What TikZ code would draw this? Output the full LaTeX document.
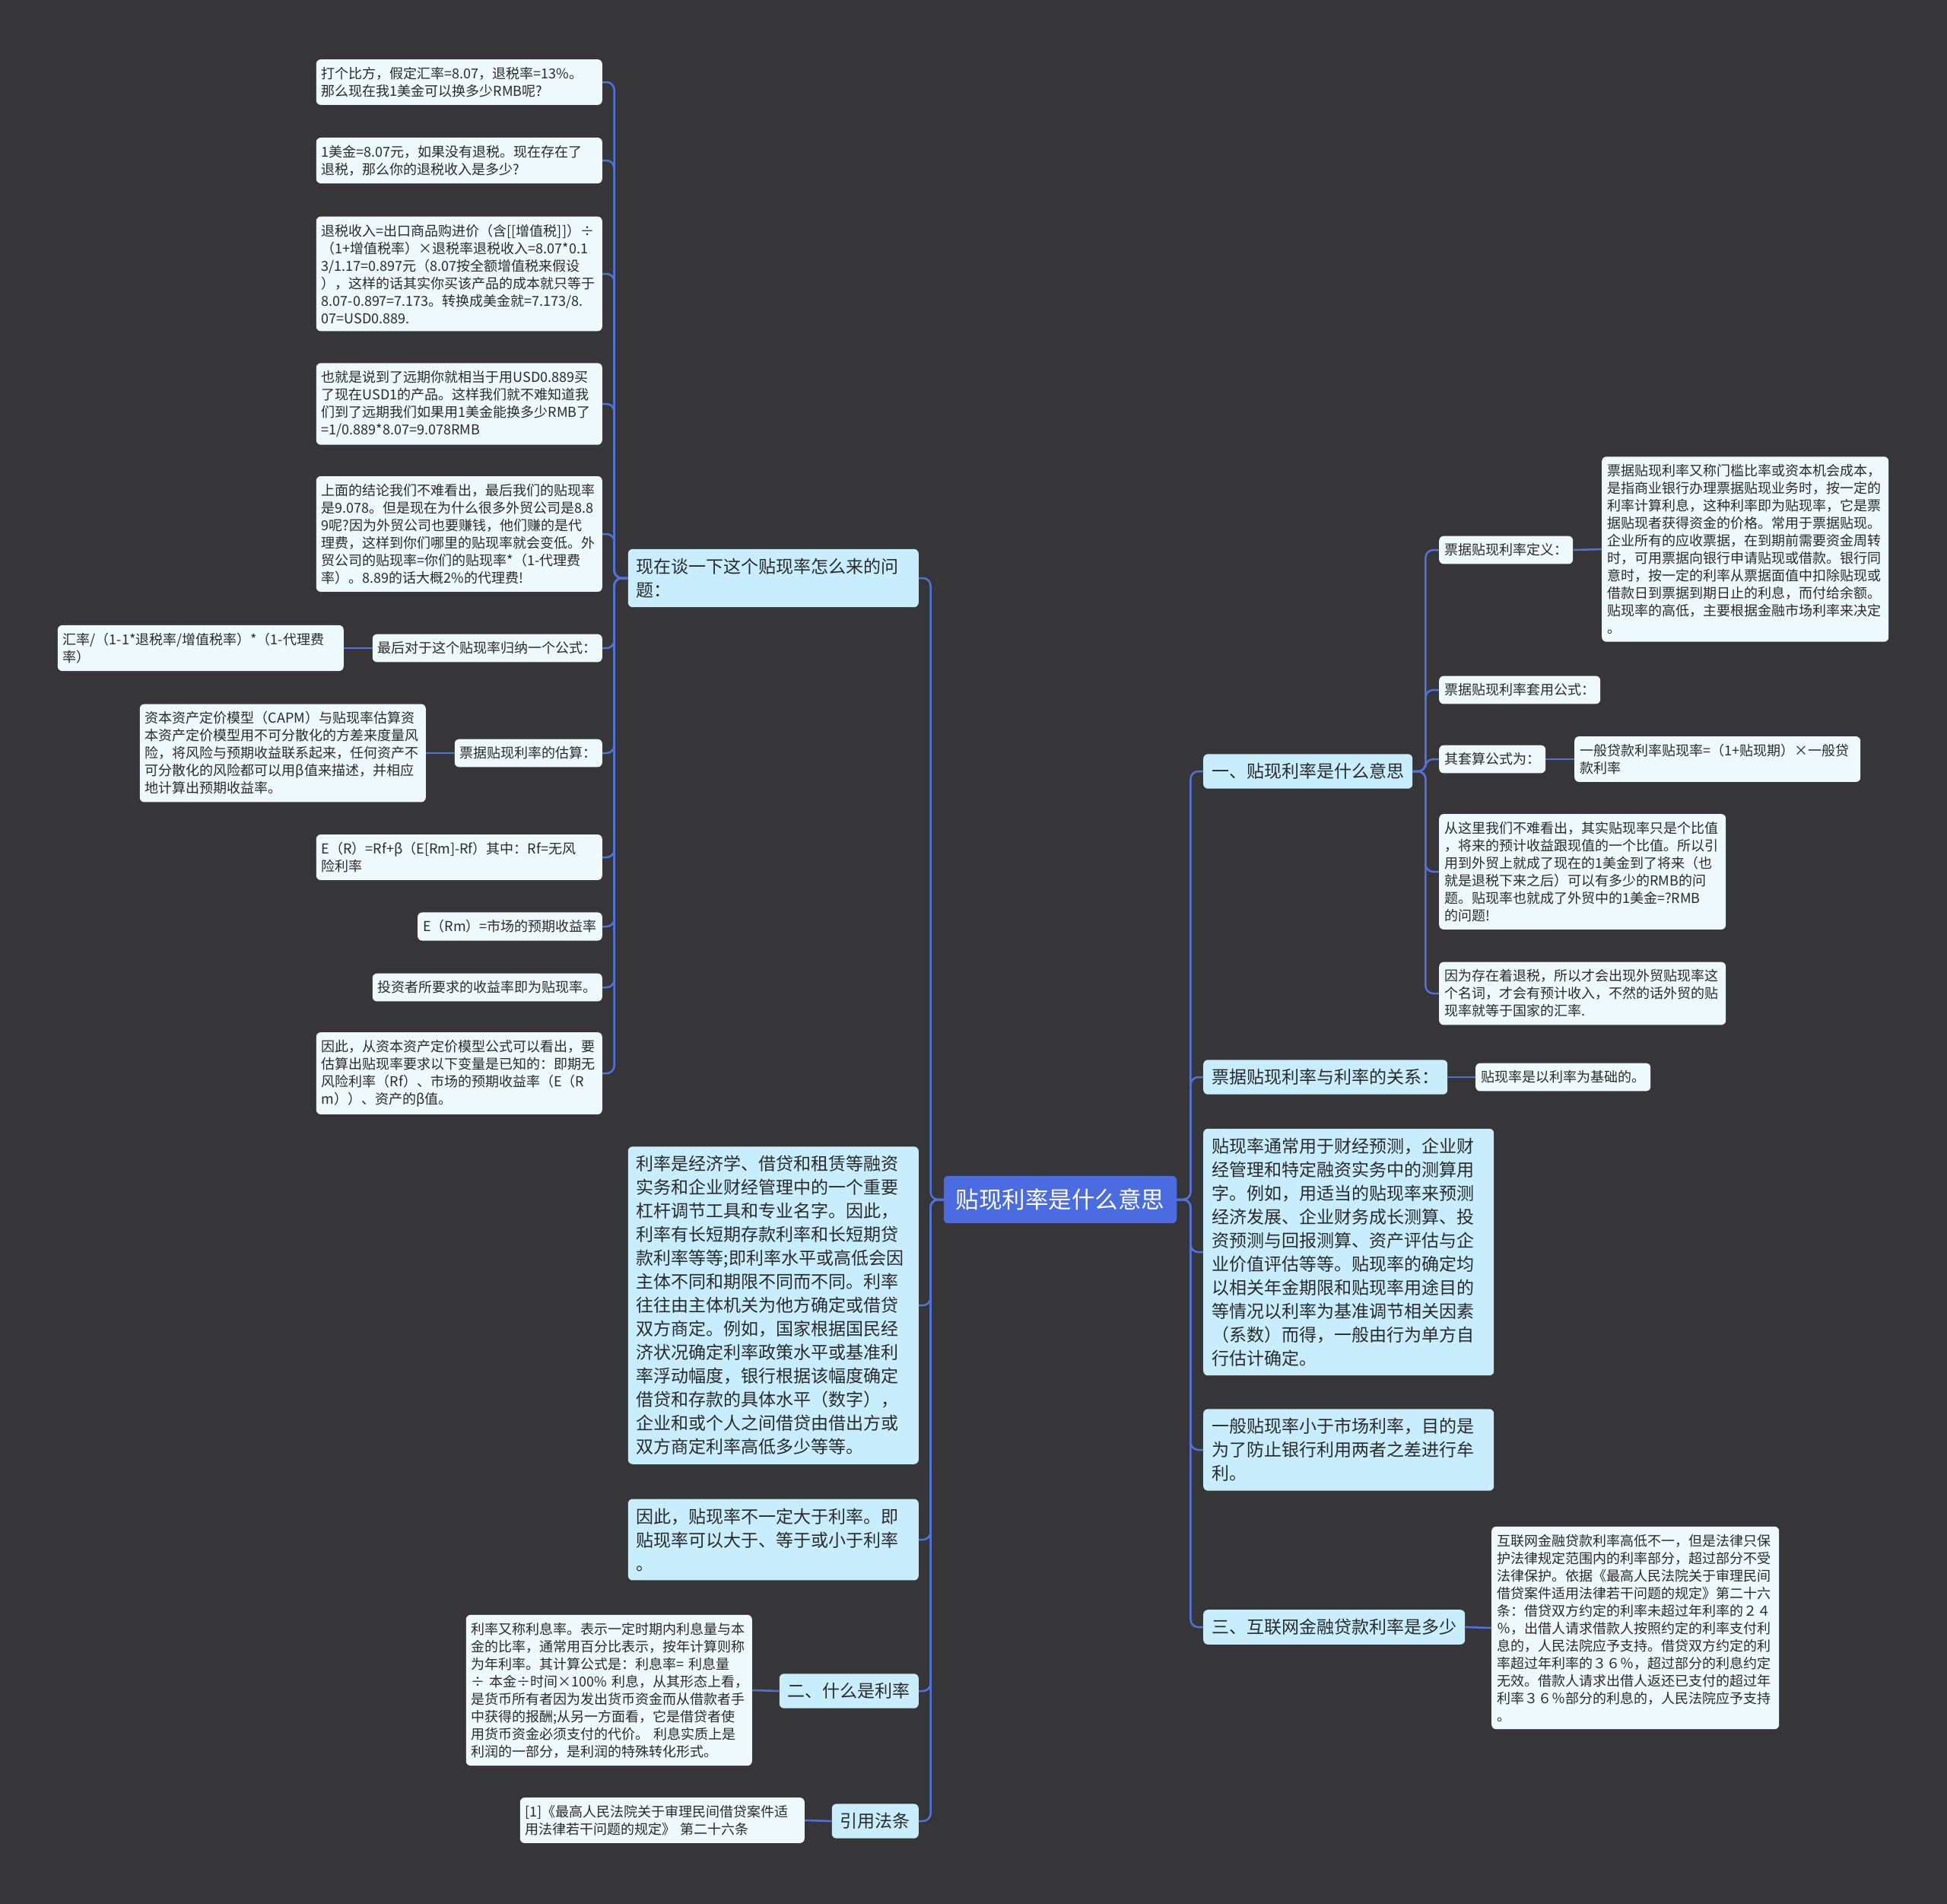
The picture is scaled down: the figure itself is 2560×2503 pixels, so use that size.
\documentclass[tikz,border=0pt]{standalone}
\usepackage{fontspec}
\setmainfont{Noto Sans CJK SC}
\usepackage{tikz}

\definecolor{bgcol}{HTML}{363537}
\definecolor{rootcol}{HTML}{4A6CE0}
\definecolor{topiccol}{HTML}{C8EEFD}
\definecolor{leafcol}{HTML}{EEF9FD}
\definecolor{linecol}{HTML}{5172DA}
\definecolor{inkcol}{HTML}{2A2A2A}

\tikzset{
	root/.style={fill=rootcol, text=white, rounded corners=6pt, inner xsep=16pt, inner ysep=17pt, font=\fontsize{30.5}{36}\selectfont},
	topic/.style={fill=topiccol, text=inkcol, rounded corners=6pt, inner xsep=11pt, inner ysep=12pt, align=left, font=\fontsize{23}{31}\selectfont},
	leaf/.style={fill=leafcol, text=inkcol, rounded corners=6pt, inner xsep=7pt, inner ysep=10pt, align=left, font=\fontsize{18}{23}\selectfont},
	link/.style={draw=linecol, line width=2.5pt, rounded corners=10pt},
}

\begin{document}
\begin{tikzpicture}[x=1pt, y=-1pt]
	\fill[bgcol] (0,0) rectangle (2560,2503);
	\useasboundingbox (0,0) rectangle (2560,2503);

	% centre
	\node[root] (root) at (1394,1577) {贴现利率是什么意思};

	% left side
	\node[topic, text width=360pt, anchor=east] (a1) at (1208,760) {现在谈一下这个贴现率怎么来的问\\题：};
	\node[topic, text width=360pt, anchor=east] (a2) at (1208,1716) {利率是经济学、借贷和租赁等融资\\实务和企业财经管理中的一个重要\\杠杆调节工具和专业名字。因此，\\利率有长短期存款利率和长短期贷\\款利率等等;即利率水平或高低会因\\主体不同和期限不同而不同。利率\\往往由主体机关为他方确定或借贷\\双方商定。例如，国家根据国民经\\济状况确定利率政策水平或基准利\\率浮动幅度，银行根据该幅度确定\\借贷和存款的具体水平（数字），\\企业和或个人之间借贷由借出方或\\双方商定利率高低多少等等。};
	\node[topic, text width=360pt, anchor=east] (a3) at (1208,2024) {因此，贴现率不一定大于利率。即\\贴现率可以大于、等于或小于利率\\。};
	\node[topic, anchor=east] (a4) at (1208,2223) {二、什么是利率};
	\node[topic, anchor=east] (a5) at (1208,2394) {引用法条};

	\node[leaf, text width=362pt, anchor=east] (l1) at (792,108) {打个比方，假定汇率=8.07，退税率=13\%。\\那么现在我1美金可以换多少RMB呢?};
	\node[leaf, text width=362pt, anchor=east] (l2) at (792,211) {1美金=8.07元，如果没有退税。现在存在了\\退税，那么你的退税收入是多少?};
	\node[leaf, text width=362pt, anchor=east] (l3) at (792,360) {退税收入=出口商品购进价（含[[增值税]]）÷\\（1+增值税率）×退税率退税收入=8.07*0.1\\3/1.17=0.897元（8.07按全额增值税来假设\\），这样的话其实你买该产品的成本就只等于\\8.07-0.897=7.173。转换成美金就=7.173/8.\\07=USD0.889.};
	\node[leaf, text width=362pt, anchor=east] (l4) at (792,531) {也就是说到了远期你就相当于用USD0.889买\\了现在USD1的产品。这样我们就不难知道我\\们到了远期我们如果用1美金能换多少RMB了\\=1/0.889*8.07=9.078RMB};
	\node[leaf, text width=362pt, anchor=east] (l5) at (792,702) {上面的结论我们不难看出，最后我们的贴现率\\是9.078。但是现在为什么很多外贸公司是8.8\\9呢?因为外贸公司也要赚钱，他们赚的是代\\理费，这样到你们哪里的贴现率就会变低。外\\贸公司的贴现率=你们的贴现率*（1-代理费\\率）。8.89的话大概2\%的代理费!};
	\node[leaf, anchor=east] (l6) at (792,852) {最后对于这个贴现率归纳一个公式：};
	\node[leaf, text width=362pt, anchor=east] (l6a) at (452,852) {汇率/（1-1*退税率/增值税率）*（1-代理费\\率）};
	\node[leaf, anchor=east] (l7) at (792,990) {票据贴现利率的估算：};
	\node[leaf, text width=362pt, anchor=east] (l7a) at (560,990) {资本资产定价模型（CAPM）与贴现率估算资\\本资产定价模型用不可分散化的方差来度量风\\险，将风险与预期收益联系起来，任何资产不\\可分散化的风险都可以用β值来描述，并相应\\地计算出预期收益率。};
	\node[leaf, text width=362pt, anchor=east] (l8) at (792,1127) {E（R）=Rf+β（E[Rm]-Rf）其中：Rf=无风\\险利率};
	\node[leaf, anchor=east] (l9) at (792,1218) {E（Rm）=市场的预期收益率};
	\node[leaf, anchor=east] (l10) at (792,1298) {投资者所要求的收益率即为贴现率。};
	\node[leaf, text width=362pt, anchor=east] (l11) at (792,1411) {因此，从资本资产定价模型公式可以看出，要\\估算出贴现率要求以下变量是已知的：即期无\\风险利率（Rf）、市场的预期收益率（E（R\\m））、资产的β值。};

	\node[leaf, text width=362pt, anchor=east] (a4a) at (989,2222) {利率又称利息率。表示一定时期内利息量与本\\金的比率，通常用百分比表示，按年计算则称\\为年利率。其计算公式是：利息率=~利息量\\÷~本金÷时间×100\%~利息，从其形态上看，\\是货币所有者因为发出货币资金而从借款者手\\中获得的报酬;从另一方面看，它是借贷者使\\用货币资金必须支付的代价。~利息实质上是\\利润的一部分，是利润的特殊转化形式。};
	\node[leaf, text width=360pt, anchor=east] (a5a) at (1058,2393) {[1]《最高人民法院关于审理民间借贷案件适\\用法律若干问题的规定》~第二十六条};

	% right side
	\node[topic, anchor=west] (b1) at (1582,1014) {一、贴现利率是什么意思};
	\node[topic, anchor=west] (b2) at (1582,1416) {票据贴现利率与利率的关系：};
	\node[topic, text width=360pt, anchor=west] (b3) at (1582,1646) {贴现率通常用于财经预测，企业财\\经管理和特定融资实务中的测算用\\字。例如，用适当的贴现率来预测\\经济发展、企业财务成长测算、投\\资预测与回报测算、资产评估与企\\业价值评估等等。贴现率的确定均\\以相关年金期限和贴现率用途目的\\等情况以利率为基准调节相关因素\\（系数）而得，一般由行为单方自\\行估计确定。};
	\node[topic, text width=360pt, anchor=west] (b4) at (1582,1906) {一般贴现率小于市场利率，目的是\\为了防止银行利用两者之差进行牟\\利。};
	\node[topic, anchor=west] (b5) at (1582,2139) {三、互联网金融贷款利率是多少};

	\node[leaf, anchor=west] (b2a) at (1940,1416) {贴现率是以利率为基础的。};
	\node[leaf, text width=364pt, anchor=west] (b5a) at (1961,2140) {互联网金融贷款利率高低不一，但是法律只保\\护法律规定范围内的利率部分，超过部分不受\\法律保护。依据《最高人民法院关于审理民间\\借贷案件适用法律若干问题的规定》第二十六\\条：借贷双方约定的利率未超过年利率的２４\\％，出借人请求借款人按照约定的利率支付利\\息的，人民法院应予支持。借贷双方约定的利\\率超过年利率的３６％，超过部分的利息约定\\无效。借款人请求出借人返还已支付的超过年\\利率３６％部分的利息的，人民法院应予支持\\。};

	\node[leaf, anchor=west] (c1) at (1892,723) {票据贴现利率定义：};
	\node[leaf, text width=363pt, anchor=west] (c1a) at (2106,722) {票据贴现利率又称门槛比率或资本机会成本，\\是指商业银行办理票据贴现业务时，按一定的\\利率计算利息，这种利率即为贴现率，它是票\\据贴现者获得资金的价格。常用于票据贴现。\\企业所有的应收票据，在到期前需要资金周转\\时，可用票据向银行申请贴现或借款。银行同\\意时，按一定的利率从票据面值中扣除贴现或\\借款日到票据到期日止的利息，而付给余额。\\贴现率的高低，主要根据金融市场利率来决定\\。};
	\node[leaf, anchor=west] (c2) at (1892,907) {票据贴现利率套用公式：};
	\node[leaf, anchor=west] (c3) at (1892,998) {其套算公式为：};
	\node[leaf, text width=362pt, anchor=west] (c3a) at (2070,998) {一般贷款利率贴现率=（1+贴现期）×一般贷\\款利率};
	\node[leaf, text width=363pt, anchor=west] (c4) at (1892,1146) {从这里我们不难看出，其实贴现率只是个比值\\，将来的预计收益跟现值的一个比值。所以引\\用到外贸上就成了现在的1美金到了将来（也\\就是退税下来之后）可以有多少的RMB的问\\题。贴现率也就成了外贸中的1美金=?RMB\\的问题!};
	\node[leaf, text width=363pt, anchor=west] (c5) at (1892,1306) {因为存在着退税，所以才会出现外贸贴现率这\\个名词，才会有预计收入，不然的话外贸的贴\\现率就等于国家的汇率.};

	% connectors
	\foreach \n in {a1,a2,a3,a4,a5} {
		\draw[link] (root.west) -- ++(-17,0) |- (\n.east);
	}
	\foreach \n in {b1,b2,b3,b4,b5} {
		\draw[link] (root.east) -- ++(18,0) |- (\n.west);
	}
	\foreach \n in {l1,l2,l3,l4,l5,l6,l7,l8,l9,l10,l11} {
		\draw[link] (a1.west) -- ++(-18,0) |- (\n.east);
	}
	\foreach \n in {c1,c2,c3,c4,c5} {
		\draw[link] (b1.east) -- ++(17,0) |- (\n.west);
	}
	\foreach \p/\c in {l6/l6a, l7/l7a, a4/a4a, a5/a5a} {
		\draw[link] (\p.west) -- (\c.east);
	}
	\foreach \p/\c in {b2/b2a, b5/b5a, c1/c1a, c3/c3a} {
		\draw[link] (\p.east) -- (\c.west);
	}
\end{tikzpicture}
\end{document}
